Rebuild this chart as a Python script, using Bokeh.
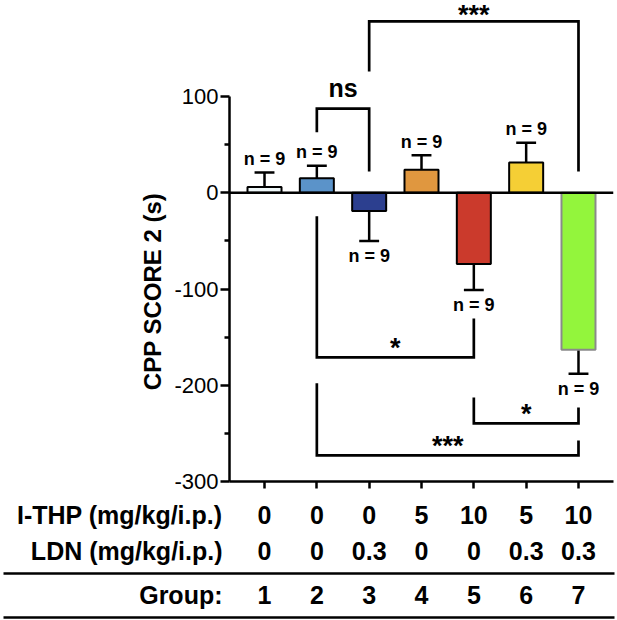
import math
from bokeh.plotting import figure
from bokeh.models import Range1d, FixedTicker, Span
from bokeh.layouts import column, row
from bokeh.embed import file_html
from bokeh.resources import INLINE
from bokeh.core.properties import value

# ---------------- data ----------------
groups = [1, 2, 3, 4, 5, 6, 7]
group_labels = ["1", "2", "3", "4", "5", "6", "7"]
thp_doses = ["0", "0", "0", "5", "10", "5", "10"]
ldn_doses = ["0", "0", "0.3", "0", "0", "0.3", "0.3"]
cpp_mean = [6, 15, -19, 24, -74, 31.5, -163]
cpp_sem = [15, 13, 31, 15, 27, 20.5, 25]
n_per_group = [9, 9, 9, 9, 9, 9, 9]
row_titles = ["I-THP (mg/kg/i.p.)", "LDN (mg/kg/i.p.)", "Group:"]
y_title = "CPP SCORE 2 (s)"
y_ticks = [-300, -200, -100, 0, 100]
y_minor = [-250, -150, -50, 50]
# pairwise comparisons: (group a, group b, bracket level, leg end a, leg end b, label)
comparisons = [
    (2, 3, 87.5, 62.8, 22.2, "ns"),
    (3, 7, 178.0, 126.0, 22.2, "***"),
    (2, 5, -171.0, -24.5, -130.6, "*"),
    (5, 7, -239.7, -212.6, -223.0, "*"),
    (2, 7, -272.9, -198.0, -257.4, "***"),
]

bar_fill = ["#eef7f8", "#5b93c9", "#2c3f8f", "#e0973f", "#cb3a2c", "#f5cf35", "#93f53c"]
bar_line = ["black", "black", "black", "black", "black", "black", "#8a8a8a"]

FONT = "Liberation Sans"
W, H = 617, 620
TITLE_W = 170          # strip holding the rotated y title
AXIS_X = 229           # page x of the y axis line
RIGHT, BOTTOM = 4, 13
FRAME_TOP_PX = 0
AXIS_TOP_PX = 96       # page y of the 100 tick
AXIS_BOT_PX = 481      # page y of the -300 tick
X0, X1 = 0.331, 7.669
Y0, YT = y_ticks[0], y_ticks[-1]
ppy = (AXIS_BOT_PX - AXIS_TOP_PX) / (YT - Y0)     # px per data unit (y)
Y1 = YT + (AXIS_TOP_PX - FRAME_TOP_PX) / ppy
ux = (X1 - X0) / (W - AXIS_X - RIGHT)             # data units per px (x)
MAIN_H = AXIS_BOT_PX + BOTTOM


def base_fig(width, height, x_range, y_range, **kw):
    f = figure(width=width, height=height, x_range=x_range, y_range=y_range,
               output_backend="svg", toolbar_location=None, title=None, **kw)
    f.outline_line_color = None
    f.grid.visible = False
    f.background_fill_color = "white"
    f.border_fill_color = "white"
    if "frame_align" in f.properties():
        f.frame_align = False
    return f


# ---------------- y title strip ----------------
lab = base_fig(TITLE_W, MAIN_H, Range1d(0, TITLE_W), Range1d(0, MAIN_H),
               x_axis_location=None, y_axis_location=None, min_border=0)
lab.text(x=[152], y=[MAIN_H - 291], text=[y_title], angle=math.pi / 2,
         text_font=value(FONT), text_font_style="bold", text_font_size="24px",
         text_align="center", text_baseline="middle", text_color="black")

# ---------------- main chart ----------------
p = base_fig(W - TITLE_W, MAIN_H, Range1d(X0, X1), Range1d(Y0, Y1),
             min_border_left=AXIS_X - TITLE_W, min_border_right=RIGHT,
             min_border_top=0, min_border_bottom=BOTTOM)

ya = p.yaxis[0]
ya.ticker = FixedTicker(ticks=y_ticks, minor_ticks=y_minor)
ya.bounds = (Y0, YT)
ya.major_label_overrides = {t: str(t) for t in y_ticks}
ya.major_label_text_font = FONT
ya.major_label_text_font_size = "22px"
ya.major_label_text_color = "black"
ya.major_label_standoff = 2
ya.axis_line_width = 2.5
ya.major_tick_line_width = 2.5
ya.minor_tick_line_width = 2.5
ya.major_tick_out = 9
ya.major_tick_in = 0
ya.minor_tick_out = 5
ya.minor_tick_in = 0

xa = p.xaxis[0]
xa.ticker = FixedTicker(ticks=groups, minor_ticks=[])
xa.major_label_overrides = {g: "" for g in groups}
xa.major_label_standoff = 0
xa.axis_line_width = 2.5
xa.major_tick_line_width = 2.5
xa.major_tick_out = 7
xa.major_tick_in = 0

# error bars (one-sided, away from zero)
err_end = [m + (s if m >= 0 else -s) for m, s in zip(cpp_mean, cpp_sem)]
cap = 0.19
p.segment(x0=groups, y0=cpp_mean, x1=groups, y1=err_end, line_color="black", line_width=2.5)
p.segment(x0=[g - cap for g in groups], y0=err_end, x1=[g + cap for g in groups], y1=err_end,
          line_color="black", line_width=2.5)
# bars
p.vbar(x=groups, width=0.65, top=cpp_mean, bottom=0, fill_color=bar_fill,
       line_color=bar_line, line_width=2)
# n labels
n_off = 13.5 / ppy
n_y = [e + (n_off if m >= 0 else -n_off - 2 / ppy) for e, m in zip(err_end, cpp_mean)]
p.text(x=groups, y=n_y, text=[f"n = {n}" for n in n_per_group], text_font=value(FONT),
       text_font_style="bold", text_font_size="18px", text_align="center",
       text_baseline="middle", text_color="black")

# significance brackets
bx, by, lx, ly, lt, ls = [], [], [], [], [], []
for a, b, lvl, ea, eb, lab_txt in comparisons:
    bx.append([a, a, b, b])
    by.append([ea, lvl, lvl, eb])
    off = 21 if lab_txt == "ns" else 9
    lx.append((a + b) / 2)
    ly.append(min(lvl + off / ppy, Y1 - 14 / ppy))
    lt.append(lab_txt)
    ls.append("25px" if lab_txt == "ns" else "27px")
p.multi_line(xs=bx, ys=by, line_color="black", line_width=2.7, line_join="miter")
p.text(x=lx, y=ly, text=lt, text_font=value(FONT), text_font_style="bold",
       text_font_size=ls, text_align="center", text_baseline="middle", text_color="black")

p.add_layout(Span(location=0, dimension="width", line_color="black", line_width=2.5))

# ---------------- table below ----------------
TH = H - MAIN_H
t = base_fig(W, TH, Range1d(X0 - AXIS_X * ux, X1 + RIGHT * ux), Range1d(TH, 0),
             x_axis_location=None, y_axis_location=None, min_border=0)

row_py = [514.5, 550, 594.5]   # page rows (centre lines)
rule_py = [573, 617]
row_y = [r - MAIN_H for r in row_py]
rule_y = [r - MAIN_H for r in rule_py]
rows = [thp_doses, ldn_doses, group_labels]
for ry, vals in zip(row_y, rows):
    t.text(x=groups, y=[ry] * len(groups), text=vals, text_font=value(FONT),
           text_font_style="bold", text_font_size="25px", text_align="center",
           text_baseline="middle", text_color="black")
t.text(x=[groups[0] - 42 * ux] * 3, y=row_y, text=row_titles, text_font=value(FONT),
       text_font_style="bold", text_font_size="25px", text_align="right",
       text_baseline="middle", text_color="black")
xs0 = X0 - AXIS_X * ux + 3 * ux
xs1 = X1 + RIGHT * ux - 3 * ux
t.segment(x0=[xs0] * 2, y0=rule_y, x1=[xs1] * 2, y1=rule_y, line_color="black", line_width=2.7)

layout = column(row(lab, p, spacing=0), t, spacing=0)
open("out.html", "w").write(file_html(layout, INLINE))
